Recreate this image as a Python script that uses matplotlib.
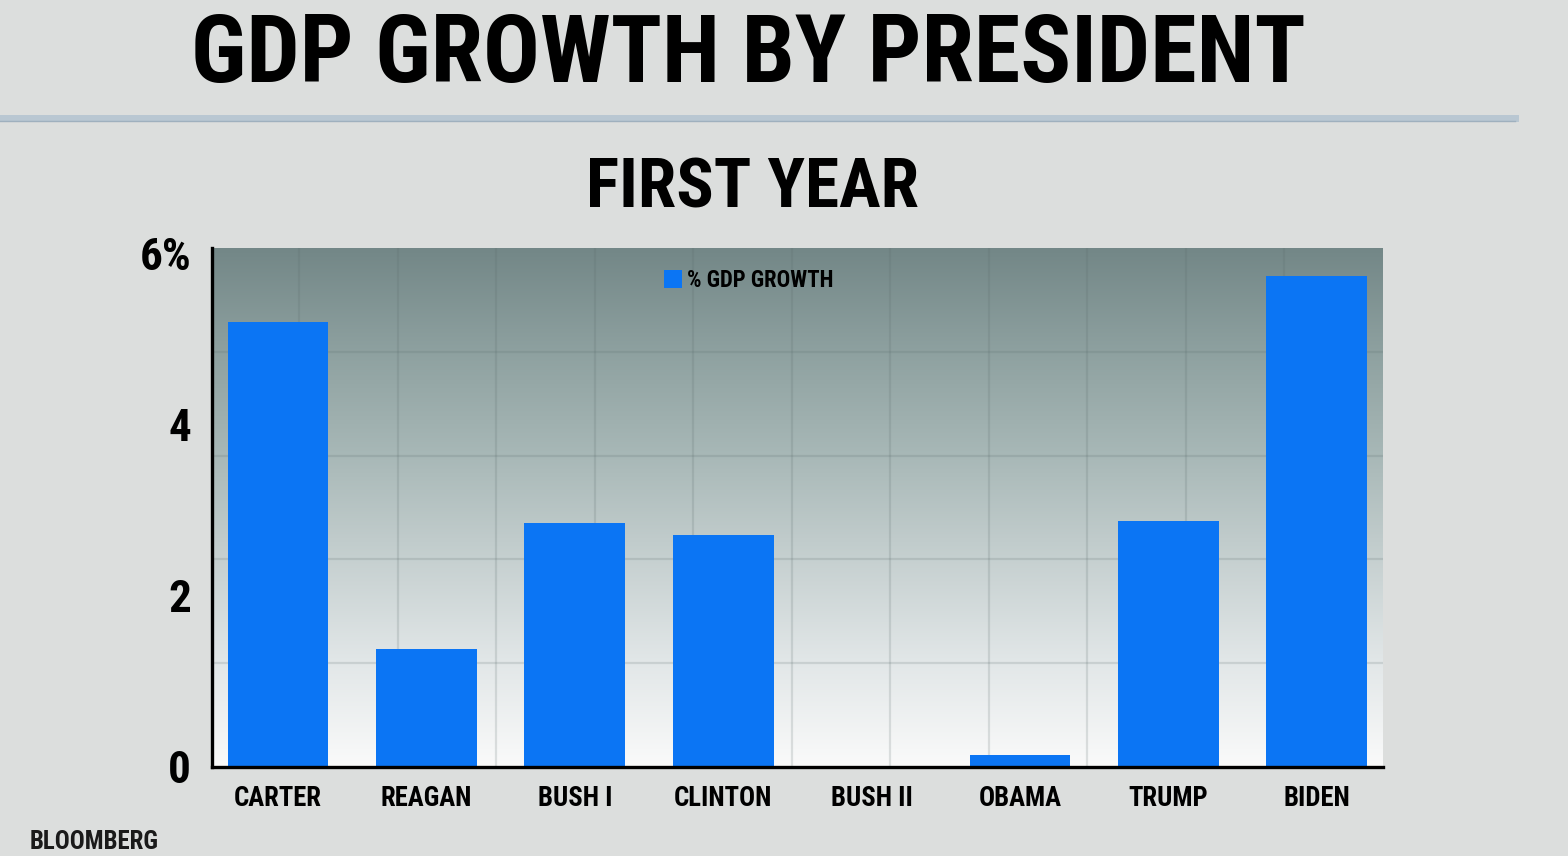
"""GDP growth by president, first year - TV style bar chart."""

import numpy as np
import matplotlib
matplotlib.use('Agg')
import matplotlib.pyplot as plt
from matplotlib import font_manager
from matplotlib.colors import LinearSegmentedColormap
from matplotlib.lines import Line2D

presidents = ["CARTER", "REAGAN", "BUSH I", "CLINTON", "BUSH II", "OBAMA", "TRUMP", "BIDEN"]
gdp_growth = [5.2, 1.38, 2.85, 2.71, -0.03, 0.14, 2.88, 5.74]
y_ticks = [0, 2, 4, 6]
y_tick_labels = ["0", "2", "4", "6%"]

BAR_COLOR = '#0b75f4'


def pick_font():
    """Find a narrow bold family if one is installed."""
    fonts = font_manager.fontManager.ttflist
    names = {f.name for f in fonts}
    for name in ['Roboto Condensed', 'Liberation Sans Narrow', 'Open Sans Condensed']:
        if name in names:
            return name, 'normal'
    for f in fonts:
        if f.name == 'DejaVu Sans' and f.stretch in ('condensed', 'semi-condensed', 500, 300):
            return 'DejaVu Sans', 'condensed'
    return 'DejaVu Sans', 'normal'


FONT_NAME, FONT_STRETCH = pick_font()
plt.rcParams['font.family'] = [FONT_NAME, 'DejaVu Sans']
plt.rcParams['font.stretch'] = FONT_STRETCH
plt.rcParams['font.weight'] = 'bold'

fig = plt.figure(figsize=(15.68, 8.56), dpi=100)
fig.patch.set_facecolor('#dcdedd')
renderer = fig.canvas.get_renderer()


def fit_width(text, target_px):
    """Scale a text's font size so it is target_px wide."""
    w = text.get_window_extent(renderer).width
    text.set_fontsize(text.get_fontsize() * target_px / w)


ax = fig.add_axes([0.1352, 0.104, 0.7468, 0.6063])
x = np.arange(len(presidents))
x_min, x_max = -0.445, 7.446
y_min, y_max = 0, 6.07

# gradient background in the plot area
grad_cmap = LinearSegmentedColormap.from_list(
    'bg', [(0, '#fafafa'), (0.2, '#e2e7e8'), (0.4, '#c6d0d0'),
           (0.6, '#a8b8b7'), (0.8, '#8ea1a0'), (1, '#738787')])
grad = np.linspace(0, 1, 256).reshape(-1, 1)
ax.imshow(grad, aspect='auto', cmap=grad_cmap, origin='lower',
          extent=[x_min, x_max, y_min, y_max], zorder=0)
ax.set_xlim(x_min, x_max)
ax.set_ylim(y_min, y_max)

# grid lines (not aligned with tick labels, as in the original graphic)
for gy in np.linspace(y_min, y_max, 6)[1:-1]:
    ax.axhline(gy, color='#5a6a6a', alpha=0.18, lw=1.6, zorder=1)
for gx in np.arange(x_max - 0.664, x_min, -0.664):
    ax.axvline(gx, color='#5a6a6a', alpha=0.18, lw=1.6, zorder=1)

ax.bar(x, gdp_growth, width=0.68, color=BAR_COLOR, zorder=2,
       label='% GDP GROWTH')

ax.set_xticks(x)
ax.set_xticklabels(presidents, fontsize=21)
ax.set_yticks(y_ticks)
ax.set_yticklabels(y_tick_labels, fontsize=24)
ax.tick_params(axis='x', length=0, pad=13)
ax.tick_params(axis='y', length=0, pad=15)

for side in ['top', 'right']:
    ax.spines[side].set_visible(False)
for side in ['left', 'bottom']:
    ax.spines[side].set_linewidth(2.4)
    ax.spines[side].set_color('black')
    ax.spines[side].set_zorder(3)

# match label widths to the original narrow lettering
fig.canvas.draw()
xlabels = ax.get_xticklabels()
fit_width(xlabels[0], 88)
for lab in xlabels[1:]:
    lab.set_fontsize(xlabels[0].get_fontsize())
ylabels = ax.get_yticklabels()
fit_width(ylabels[3], 52)
for lab in ylabels[:3]:
    lab.set_fontsize(ylabels[3].get_fontsize())

leg = ax.legend(loc='upper left', bbox_to_anchor=(0.368, 1.0), frameon=False,
                handlelength=0.75, handleheight=0.75, handletextpad=0.2,
                prop={'size': 17, 'weight': 'bold'})
fit_width(leg.get_texts()[0], 147)

# titles and header rule
title = fig.text(0.477, 0.934, "GDP GROWTH BY PRESIDENT", ha='center', va='center',
                 fontsize=70)
fit_width(title, 1115)
fig.add_artist(Line2D([0, 0.966], [0.862, 0.862], transform=fig.transFigure,
                      color='#b9c7d2', lw=5))
fig.add_artist(Line2D([0, 0.966], [0.859, 0.859], transform=fig.transFigure,
                      color='#9fb0be', lw=1))
sub = fig.text(0.48, 0.779, "FIRST YEAR", ha='center', va='center', fontsize=50)
fit_width(sub, 333)
credit = fig.text(0.019, 0.016, "BLOOMBERG", ha='left', va='center',
                  fontsize=17, color='#1a1a1a')
fit_width(credit, 130)

fig.savefig('out.png', dpi=100, facecolor=fig.get_facecolor())
